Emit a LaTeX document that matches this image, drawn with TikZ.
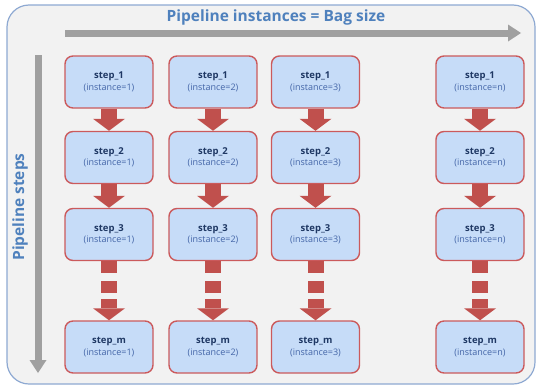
\documentclass[tikz,border=0pt]{standalone}
\usepackage{fontspec}
\setmainfont{Open Sans}
\usetikzlibrary{arrows.meta}
\definecolor{boxfill}{HTML}{C6DCF8}
\definecolor{boxline}{HTML}{CB5A5C}
\definecolor{arrowred}{HTML}{C0504D}
\definecolor{titleblue}{HTML}{4F81BD}
\definecolor{stepnavy}{HTML}{1F3864}
\definecolor{instblue}{HTML}{4466A8}
\definecolor{panelfill}{HTML}{F2F2F2}
\definecolor{panelline}{HTML}{8EA9D2}
\definecolor{axisgray}{HTML}{A0A0A0}
\tikzset{
	stepbox/.style={draw=boxline, fill=boxfill, line width=1.4pt, rounded corners=8pt,
		minimum width=88pt, minimum height=52pt, align=center, inner sep=0pt},
	flow/.style={arrowred, line width=16pt, -{Triangle[width=32pt,length=12pt,line width=0pt]}},
	gapflow/.style={flow, dash pattern=on 12pt off 8pt on 12pt off 6pt on 30pt},
	axis/.style={axisgray, line width=7pt, -{Triangle[width=17pt,length=13pt,line width=0pt]}},
	axislabel/.style={titleblue, font=\fontsize{15.5}{18}\selectfont\bfseries}
}
\newcommand{\stp}[2]{{\fontsize{9.5}{11}\selectfont\bfseries\color{stepnavy}#1}\\[-0.5pt]{\fontsize{9}{10}\selectfont\color{instblue}(instance=#2)}}
\begin{document}
\begin{tikzpicture}[x=1pt,y=-1pt]
		\useasboundingbox (0,0) rectangle (537,386);
		% Panel
		\draw[panelline, fill=panelfill, line width=1.2pt, rounded corners=22pt] (7,5) rectangle (535,384);
		% Axes
		\coordinate (hstart) at (65,33);
		\coordinate (hend) at (521,33);
		\coordinate (vstart) at (38,55);
		\coordinate (vend) at (38,373);
		\draw[axis] (hstart) -- (hend);
		\draw[axis] (vstart) -- (vend);
		\node[axislabel] (htitle) at (276,17) {Pipeline instances = Bag size};
		\node[axislabel, rotate=90] (vtitle) at (20,207) {Pipeline steps};
		% Row 1
		\node[stepbox] (s11) at (109,82) {\stp{step\_1}{1}};
		\node[stepbox] (s12) at (213,82) {\stp{step\_1}{2}};
		\node[stepbox] (s13) at (315.5,82) {\stp{step\_1}{3}};
		\node[stepbox] (s1n) at (480,82) {\stp{step\_1}{n}};
		% Row 2
		\node[stepbox] (s21) at (109,157.5) {\stp{step\_2}{1}};
		\node[stepbox] (s22) at (213,157.5) {\stp{step\_2}{2}};
		\node[stepbox] (s23) at (315.5,157.5) {\stp{step\_2}{3}};
		\node[stepbox] (s2n) at (480,157.5) {\stp{step\_2}{n}};
		% Row 3
		\node[stepbox] (s31) at (109,234.5) {\stp{step\_3}{1}};
		\node[stepbox] (s32) at (213,234.5) {\stp{step\_3}{2}};
		\node[stepbox] (s33) at (315.5,234.5) {\stp{step\_3}{3}};
		\node[stepbox] (s3n) at (480,234.5) {\stp{step\_3}{n}};
		% Row m
		\node[stepbox] (sm1) at (109,347) {\stp{step\_m}{1}};
		\node[stepbox] (sm2) at (213,347) {\stp{step\_m}{2}};
		\node[stepbox] (sm3) at (315.5,347) {\stp{step\_m}{3}};
		\node[stepbox] (smn) at (480,347) {\stp{step\_m}{n}};
		% Arrows
		\draw[flow] (s11) -- (s21);
		\draw[flow] (s12) -- (s22);
		\draw[flow] (s13) -- (s23);
		\draw[flow] (s1n) -- (s2n);
		\draw[flow] (s21) -- (s31);
		\draw[flow] (s22) -- (s32);
		\draw[flow] (s23) -- (s33);
		\draw[flow] (s2n) -- (s3n);
		\draw[gapflow] (s31) -- (sm1);
		\draw[gapflow] (s32) -- (sm2);
		\draw[gapflow] (s33) -- (sm3);
		\draw[gapflow] (s3n) -- (smn);
	\end{tikzpicture}
\end{document}
